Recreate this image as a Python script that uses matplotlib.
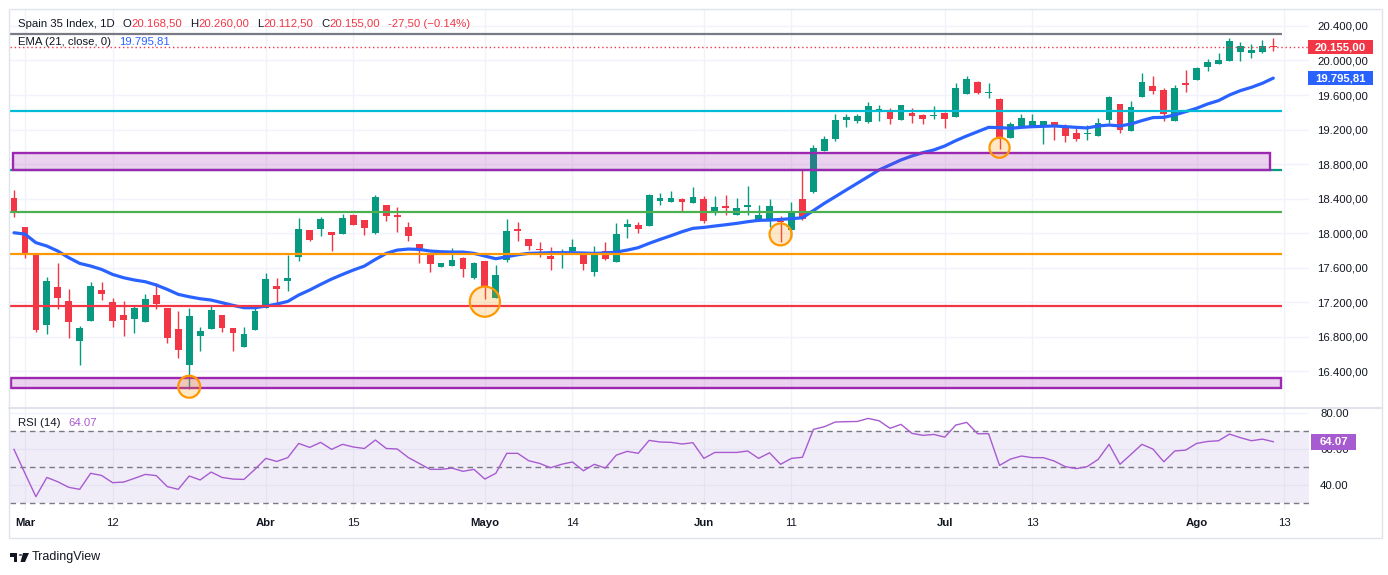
import matplotlib

matplotlib.use("Agg")
import matplotlib.pyplot as plt
import matplotlib.transforms as mtransforms
from matplotlib.lines import Line2D
from matplotlib.patches import Circle, Polygon, Rectangle
from matplotlib.ticker import FuncFormatter
import numpy as np

plt.rcParams["font.family"] = ["Liberation Sans", "DejaVu Sans"]

# daily candles, index 0 = first visible bar
opens = [
    18402, 18069, 17768, 16937, 17369, 17211, 16747, 16983, 17339, 17200,
    17049, 17006, 16971, 17281, 17130, 16886, 16473, 16809, 16886, 17049,
    16898, 16682, 16879, 17134, 17385, 17447, 17725, 18034, 18050, 18011,
    17992, 18208, 18150, 18003, 18324, 18212, 18069, 17872, 17756, 17609,
    17621, 17710, 17478, 17675, 17250, 17686, 18046, 17930, 17814, 17733,
    17756, 17791, 17748, 17551, 17791, 17667, 18073, 18092, 18085, 18375,
    18363, 18390, 18351, 18394, 18259, 18313, 18204, 18297, 18143, 18143,
    18139, 18038, 18394, 18472, 18955, 19090, 19310, 19299, 19291, 19423,
    19415, 19310, 19388, 19369, 19357, 19392, 19345, 19616, 19751, 19620,
    19554, 19106, 19233, 19233, 19233, 19287, 19233, 19156, 19148, 19129,
    19310, 19496, 19183, 19581, 19705, 19658, 19303, 19743, 19778, 19925,
    19964, 19998, 20099, 20091, 20103, 20168.5,
]
highs = [
    18498, 18069, 17768, 17485, 17656, 17350, 16921, 17431, 17431, 17246,
    17211, 17153, 17292, 17420, 17130, 17095, 17130, 16909, 17153, 17049,
    16898, 16909, 17130, 17536, 17478, 17744, 18173, 18034, 18185, 18011,
    18220, 18220, 18150, 18440, 18324, 18301, 18127, 17872, 17756, 17652,
    17826, 17717, 17663, 17675, 17629, 18162, 18127, 17930, 17895, 17837,
    17818, 17926, 17748, 17849, 17895, 18119, 18162, 18131, 18448, 18460,
    18487, 18405, 18533, 18429, 18429, 18440, 18405, 18545, 18324, 18394,
    18200, 18359, 18730, 19020, 19125, 19380, 19380, 19380, 19519, 19484,
    19446, 19484, 19446, 19380, 19473, 19407, 19740, 19821, 19767, 19740,
    19566, 19291, 19380, 19380, 19299, 19287, 19264, 19222, 19252, 19334,
    19589, 19496, 19531, 19859, 19821, 19681, 19716, 19890, 19929, 20014,
    20087, 20261, 20215, 20192, 20238, 20260,
]
lows = [
    18189, 17713, 16852, 16832, 17118, 16786, 16473, 16983, 17226, 16913,
    16809, 16840, 16971, 17122, 16728, 16554, 16194, 16635, 16886, 16855,
    16635, 16682, 16879, 17134, 17168, 17331, 17679, 17911, 17968, 17795,
    17992, 18096, 17980, 17992, 18143, 18015, 17911, 17656, 17551, 17609,
    17621, 17493, 17462, 17230, 17250, 17667, 17907, 17802, 17721, 17571,
    17594, 17791, 17571, 17501, 17686, 17667, 17945, 18003, 18085, 18324,
    18363, 18251, 18351, 18119, 18212, 18204, 18204, 18212, 18143, 18073,
    17899, 17938, 18150, 18464, 18955, 19071, 19233, 19280, 19280, 19303,
    19264, 19310, 19280, 19264, 19326, 19222, 19345, 19616, 19616, 19569,
    18978, 19106, 19233, 19233, 19036, 19082, 19059, 19071, 19082, 19129,
    19272, 19164, 19183, 19581, 19616, 19303, 19303, 19639, 19778, 19882,
    19964, 19998, 19998, 20033, 20091, 20112.5,
]
closes = [
    18247, 17748, 16879, 17443, 17250, 16971, 16897, 17385, 17296, 16983,
    16995, 17130, 17234, 17180, 16786, 16647, 17037, 16863, 17107, 16902,
    16840, 16828, 17095, 17466, 17354, 17478, 18046, 17918, 18162, 17976,
    18173, 18096, 18061, 18417, 18200, 18189, 17968, 17806, 17644, 17652,
    17687, 17586, 17652, 17385, 17513, 18023, 18026, 17849, 17802, 17702,
    17779, 17837, 17644, 17779, 17698, 17988, 18104, 18050, 18440, 18405,
    18405, 18363, 18417, 18143, 18297, 18286, 18290, 18324, 18208, 18313,
    18123, 18243, 18162, 18989, 19090, 19310, 19341, 19353, 19473, 19434,
    19326, 19484, 19357, 19326, 19369, 19326, 19682, 19786, 19627, 19635,
    19090, 19260, 19334, 19299, 19299, 19233, 19129, 19090, 19156, 19272,
    19577, 19195, 19461, 19751, 19647, 19384, 19681, 19720, 19913, 19983,
    20006, 20226, 20168, 20126, 20168, 20155,
]
ema21 = [
    18003, 17988, 17888, 17849, 17791, 17714, 17648, 17617, 17578, 17520,
    17482, 17455, 17435, 17397, 17346, 17289, 17261, 17238, 17223, 17192,
    17161, 17134, 17134, 17153, 17176, 17207, 17281, 17339, 17404, 17466,
    17520, 17571, 17617, 17694, 17764, 17802, 17814, 17810, 17791, 17783,
    17779, 17779, 17764, 17733, 17702, 17725, 17748, 17764, 17768, 17772,
    17772, 17772, 17768, 17764, 17768, 17779, 17802, 17830, 17880, 17926,
    17969, 18015, 18054, 18065, 18081, 18096, 18112, 18131, 18147, 18150,
    18158, 18166, 18177, 18260, 18344, 18421, 18499, 18576, 18653, 18731,
    18789, 18847, 18893, 18932, 18963, 19009, 19071, 19125, 19175, 19225,
    19222, 19214, 19225, 19233, 19237, 19241, 19233, 19225, 19218, 19241,
    19252, 19241, 19264, 19303, 19338, 19341, 19369, 19407, 19446, 19496,
    19535, 19600, 19651, 19689, 19736, 19795.81,
]
rsi14 = [
    59.8, 46.5, 33.5, 44.2, 41.8, 38.7, 37.6, 46.5, 45.3, 41.3,
    41.6, 43.7, 45.9, 45.2, 39.1, 37.6, 45.0, 42.8, 47.2, 44.2,
    43.3, 43.1, 48.7, 54.8, 53.1, 55.2, 63.1, 60.9, 63.7, 59.8,
    62.6, 61.1, 60.3, 65.0, 60.3, 60.0, 55.3, 52.0, 48.7, 48.7,
    49.4, 47.6, 48.7, 43.3, 46.5, 57.6, 57.6, 53.5, 52.0, 49.6,
    51.5, 52.8, 47.9, 51.5, 49.4, 56.6, 58.7, 57.6, 64.8, 63.9,
    63.7, 62.8, 63.5, 54.8, 58.1, 58.1, 58.1, 58.9, 54.8, 57.9,
    51.5, 54.8, 55.4, 70.9, 72.4, 75.0, 75.2, 75.3, 77.0, 75.7,
    71.5, 73.7, 68.7, 67.6, 68.1, 66.6, 73.3, 74.8, 68.5, 68.5,
    50.9, 54.4, 56.1, 55.2, 55.2, 53.3, 50.2, 49.1, 50.2, 54.2,
    62.6, 51.5, 57.0, 62.6, 60.0, 52.9, 58.9, 59.4, 63.1, 64.2,
    64.6, 68.3, 66.3, 64.6, 65.5, 64.07,
]

# drawings on the chart
level_prices = [20307, 19415, 18730, 18243, 17760, 17154]
level_colors = ["#787b86", "#00bcd4", "#089981", "#4caf50", "#ff9800", "#f23645"]
zone_low = [18730, 16199]
zone_high = [18928, 16319]
zone_start = [-0.1, -0.27]
zone_end = [114.7, 115.7]
circle_idx = [16, 43, 70, 90]
circle_price = [16218, 17204, 17984, 18989]
circle_sizes = [250, 470, 250, 210]

price_ticks = [16400, 16800, 17200, 17600, 18000, 18400, 18800, 19200, 19600, 20000, 20400]
rsi_ticks = [40, 60, 80]
date_tick_pos = [1, 9, 23, 31, 43, 51, 63, 71, 85, 93, 108, 116]
date_tick_labels = ["Mar", "12", "Abr", "15", "Mayo", "14", "Jun", "11", "Jul", "13", "Ago", "13"]
month_labels = {"Mar", "Abr", "Mayo", "Jun", "Jul", "Ago"}

GREEN = "#089981"
RED = "#f23645"
BLUE = "#2962ff"
PURPLE = "#a75bd0"
TEXT = "#131722"
GRID = "#f0f3fa"
BORDER = "#e0e3eb"
FS = 8.2

W, H = 1388, 575


def px_rect(left, top, right, bottom):
    return [left / W, 1 - bottom / H, (right - left) / W, (bottom - top) / H]


def euro(value, _pos=None):
    return f"{value:,.2f}".replace(",", " ").replace(".", ",").replace(" ", ".")


fig = plt.figure(figsize=(W / 100, H / 100), dpi=100)
fig.patch.set_facecolor("white")
ax = fig.add_axes(px_rect(10, 9, 1309, 407))
ax_rsi = fig.add_axes(px_rect(10, 408, 1309, 510), sharex=ax)

idx = np.arange(len(closes))
o, h, l, c = (np.array(v, dtype=float) for v in (opens, highs, lows, closes))
colors = np.where(c >= o, GREEN, RED)

# candles
ax.vlines(idx, l, h, colors=colors, linewidth=1, zorder=2)
ax.bar(idx, np.maximum(np.abs(c - o), 12), bottom=np.minimum(o, c), width=0.62,
       color=colors, linewidth=0, zorder=2)

ax.plot(idx, ema21, color=BLUE, linewidth=2.3, solid_capstyle="round", zorder=3)

# horizontal levels and zones
ax.hlines(level_prices, -0.4, 115.8, colors=level_colors, linewidth=1.6, zorder=4)
for lo, hi, x0, x1 in zip(zone_low, zone_high, zone_start, zone_end):
    ax.add_patch(Rectangle((x0, lo), x1 - x0, hi - lo, facecolor="#9c27b0", alpha=0.2,
                           edgecolor="none", zorder=3.5))
    ax.add_patch(Rectangle((x0, lo), x1 - x0, hi - lo, fill=False,
                           edgecolor="#9c27b0", linewidth=1.7, zorder=4))
ax.axhline(closes[-1], color=RED, linewidth=1, linestyle=(0, (1, 2)), zorder=4)
ax.scatter(circle_idx, circle_price, s=circle_sizes, facecolor=(1, 0.6, 0, 0.22),
           edgecolor="#ff9800", linewidth=1.6, zorder=5)

# RSI pane
ax_rsi.axhspan(30, 70, color="#7e57c2", alpha=0.1, linewidth=0)
for level in (70, 50, 30):
    ax_rsi.axhline(level, color="#787b86", linewidth=1, linestyle=(0, (4, 3)))
ax_rsi.plot(idx, rsi14, color=PURPLE, linewidth=1)

ax.set_xlim(-0.365, 118.26)
ax.set_ylim(15983, 20597)
ax_rsi.set_ylim(26.1, 82.8)

for a in (ax, ax_rsi):
    for s in a.spines.values():
        s.set_visible(False)
    a.set_axisbelow(True)
    a.grid(True, color=GRID, linewidth=1)
    a.yaxis.tick_right()
    a.tick_params(axis="both", length=0, labelsize=FS, labelcolor=TEXT)

ax.set_yticks(price_ticks)
ax.yaxis.set_major_formatter(FuncFormatter(euro))
ax.tick_params(axis="y", pad=5.8)
ax.tick_params(axis="x", labelbottom=False)
ax_rsi.set_yticks(rsi_ticks)
ax_rsi.yaxis.set_major_formatter(FuncFormatter(lambda v, _p: f"{v:.2f}"))
ax_rsi.tick_params(axis="y", pad=8)
ax_rsi.set_xticks(date_tick_pos)
ax_rsi.set_xticklabels(date_tick_labels)
ax_rsi.tick_params(axis="x", pad=6)
for label in ax_rsi.get_xticklabels():
    if label.get_text() in month_labels:
        label.set_fontweight("bold")

# value boxes on the price scale
price_trans = mtransforms.blended_transform_factory(fig.transFigure, ax.transData)
rsi_trans = mtransforms.blended_transform_factory(fig.transFigure, ax_rsi.transData)
for value, color in ((closes[-1], RED), (ema21[-1], BLUE)):
    fig.add_artist(Rectangle((1308 / W, value - 81), 65 / W, 162, transform=price_trans,
                             facecolor=color, edgecolor="none", zorder=10))
    fig.text(1340.5 / W, value, euro(value), transform=price_trans, color="white",
             fontsize=FS, fontweight="bold", ha="center", va="center", zorder=11)
fig.add_artist(Rectangle((1311 / W, rsi14[-1] - 4.4), 45 / W, 8.8, transform=rsi_trans,
                         facecolor=PURPLE, edgecolor="none", zorder=10))
fig.text(1333.5 / W, rsi14[-1], f"{rsi14[-1]:.2f}", transform=rsi_trans, color="white",
         fontsize=FS, fontweight="bold", ha="center", va="center", zorder=11)

# frame and pane separator
fig.add_artist(Rectangle((9 / W, 1 - 538 / H), 1373 / W, 529 / H, transform=fig.transFigure,
                         fill=False, edgecolor=BORDER, linewidth=1))
fig.add_artist(Line2D([9 / W, 1382 / W], [1 - 407.5 / H] * 2, transform=fig.transFigure,
                      color=BORDER, linewidth=1.5))

renderer = fig.canvas.get_renderer()


def text_row(x_px, y_px, pieces, gap=8):
    x = x_px
    for text, color, spaced in pieces:
        if spaced:
            x += gap
        t = fig.text(x / W, 1 - y_px / H, text, color=color, fontsize=FS, ha="left", va="center")
        x += t.get_window_extent(renderer).width


text_row(18, 24, [
    ("Spain 35 Index, 1D", TEXT, False),
    ("O", TEXT, True), ("20.168,50", RED, False),
    ("H", TEXT, True), ("20.260,00", RED, False),
    ("L", TEXT, True), ("20.112,50", RED, False),
    ("C", TEXT, True), ("20.155,00", RED, False),
    ("-27,50 (\u22120.14%)", RED, True),
])
text_row(18, 42, [("EMA (21, close, 0)", TEXT, False), ("19.795,81", BLUE, True)])
text_row(18, 423, [("RSI (14)", TEXT, False), (f"{rsi14[-1]:.2f}", PURPLE, True)])

# TradingView mark
logo = [
    Rectangle((10 / W, 1 - 556.5 / H), 7 / W, 3.5 / H),
    Rectangle((13.5 / W, 1 - 562 / H), 3.5 / W, 9 / H),
    Circle((20.5 / W, 1 - 555 / H), 1.7 / W),
    Polygon([(23 / W, 1 - 553 / H), (29 / W, 1 - 553 / H), (25 / W, 1 - 562 / H), (20.5 / W, 1 - 562 / H)]),
]
for patch in logo:
    patch.set_transform(fig.transFigure)
    patch.set_facecolor(TEXT)
    patch.set_edgecolor("none")
    fig.add_artist(patch)
fig.text(32 / W, 1 - 557 / H, "TradingView", color=TEXT, fontsize=9, ha="left", va="center")

fig.savefig("out.png", dpi=100)
